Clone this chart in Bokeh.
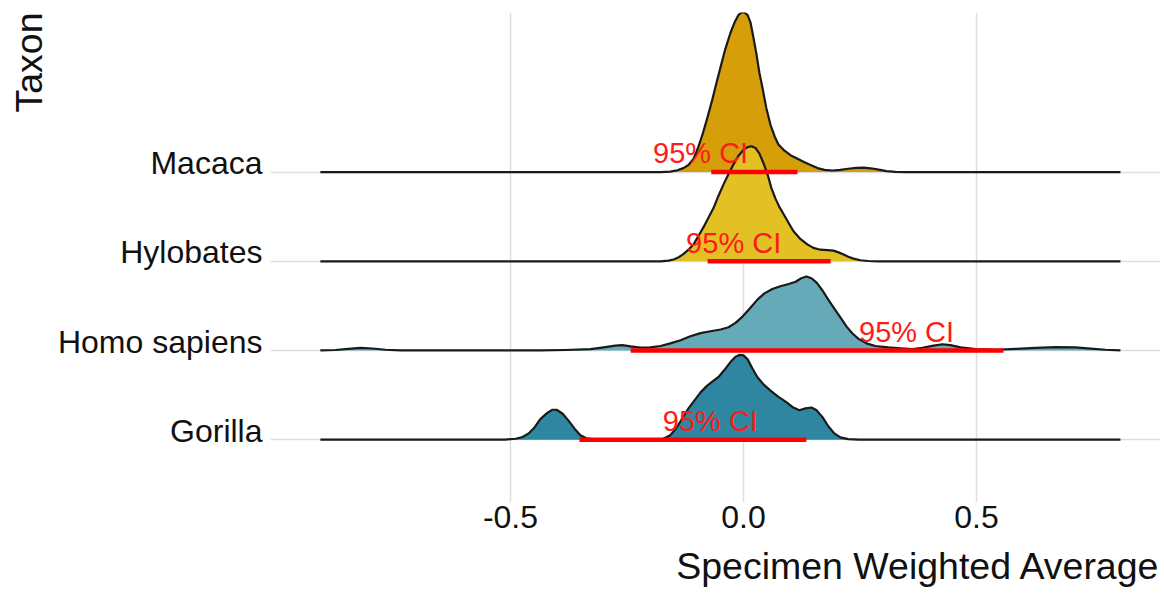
from bokeh.plotting import figure
from bokeh.models import Range1d, FixedTicker, CustomJSTickFormatter, Title, ColumnDataSource
from bokeh.core.properties import value
from bokeh.embed import file_html
from bokeh.resources import INLINE

# ---------------- data ----------------
taxa = ["Gorilla", "Homo sapiens", "Hylobates", "Macaca"]
taxon_pos = [1, 2, 3, 4]
fill_colors = ["#2F86A0", "#66A9B8", "#E3C125", "#D69E08"]

x_ticks = [-0.5, 0.0, 0.5]
x_tick_labels = ["-0.5", "0.0", "0.5"]
x_title = "Specimen Weighted Average"
y_title = "Taxon"

# density ridges (x value, ridge height in row units)
gorilla_x = [-0.908, -0.511, -0.489, -0.474, -0.461, -0.448, -0.436, -0.421, -0.410, -0.401,
             -0.388, -0.375, -0.362, -0.350, -0.337, -0.318, -0.189, -0.172, -0.157, -0.144,
             -0.131, -0.118, -0.105, -0.092, -0.079, -0.067, -0.054, -0.041, -0.028, -0.017,
             -0.009, 0.000, 0.009, 0.019, 0.030, 0.043, 0.058, 0.075, 0.092, 0.107,
             0.120, 0.133, 0.146, 0.157, 0.170, 0.182, 0.195, 0.208, 0.225, 0.247, 0.809]
gorilla_h = [0.0, 0.0, 0.01, 0.03, 0.07, 0.14, 0.23, 0.30, 0.335, 0.335,
             0.29, 0.21, 0.12, 0.05, 0.015, 0.0, 0.0, 0.01, 0.05, 0.13,
             0.24, 0.35, 0.44, 0.53, 0.60, 0.65, 0.70, 0.78, 0.87, 0.93,
             0.95, 0.945, 0.90, 0.80, 0.70, 0.62, 0.55, 0.48, 0.42, 0.36,
             0.33, 0.35, 0.36, 0.33, 0.25, 0.15, 0.07, 0.025, 0.005, 0.0, 0.0]

homo_x = [-0.908, -0.876, -0.848, -0.822, -0.796, -0.768, -0.736, -0.672, -0.436, -0.382,
          -0.328, -0.300, -0.275, -0.260, -0.242, -0.221, -0.200, -0.178, -0.157, -0.135,
          -0.114, -0.092, -0.071, -0.049, -0.032, -0.017, -0.002, 0.015, 0.030, 0.045,
          0.062, 0.079, 0.097, 0.112, 0.124, 0.135, 0.146, 0.157, 0.170, 0.182,
          0.195, 0.208, 0.221, 0.234, 0.247, 0.264, 0.283, 0.311, 0.337, 0.363,
          0.384, 0.408, 0.427, 0.444, 0.466, 0.498, 0.541, 0.584, 0.627, 0.670,
          0.712, 0.745, 0.777, 0.809]
homo_h = [0.0, 0.005, 0.018, 0.03, 0.022, 0.008, 0.002, 0.0, 0.0, 0.005,
          0.015, 0.035, 0.055, 0.06, 0.045, 0.032, 0.035, 0.05, 0.08, 0.115,
          0.16, 0.195, 0.215, 0.235, 0.26, 0.31, 0.38, 0.48, 0.57, 0.64,
          0.69, 0.72, 0.745, 0.77, 0.81, 0.83, 0.81, 0.76, 0.67, 0.57,
          0.47, 0.37, 0.27, 0.19, 0.13, 0.08, 0.05, 0.035, 0.025, 0.015,
          0.03, 0.055, 0.07, 0.06, 0.035, 0.015, 0.008, 0.018, 0.03, 0.038,
          0.035, 0.02, 0.008, 0.0]

hylobates_x = [-0.908, -0.178, -0.161, -0.150, -0.139, -0.129, -0.118, -0.107, -0.097, -0.086,
               -0.075, -0.064, -0.054, -0.043, -0.032, -0.021, -0.011, 0.000, 0.009, 0.017,
               0.026, 0.034, 0.043, 0.052, 0.060, 0.069, 0.077, 0.086, 0.097, 0.107,
               0.122, 0.137, 0.150, 0.165, 0.180, 0.193, 0.204, 0.215, 0.225, 0.236,
               0.251, 0.268, 0.290, 0.809]
hylobates_h = [0.0, 0.0, 0.008, 0.02, 0.045, 0.08, 0.13, 0.19, 0.28, 0.38,
               0.49, 0.60, 0.73, 0.86, 0.98, 1.09, 1.18, 1.25, 1.28, 1.29,
               1.27, 1.21, 1.10, 0.97, 0.82, 0.70, 0.61, 0.53, 0.43, 0.34,
               0.25, 0.19, 0.15, 0.13, 0.125, 0.12, 0.10, 0.075, 0.05, 0.03,
               0.012, 0.003, 0.0, 0.0]

macaca_x = [-0.908, -0.178, -0.157, -0.142, -0.129, -0.118, -0.107, -0.097, -0.088, -0.079,
            -0.067, -0.058, -0.049, -0.039, -0.028, -0.019, -0.011, -0.004, 0.002, 0.009,
            0.015, 0.021, 0.028, 0.034, 0.041, 0.049, 0.058, 0.067, 0.075, 0.088,
            0.101, 0.116, 0.131, 0.144, 0.159, 0.174, 0.191, 0.208, 0.225, 0.242,
            0.258, 0.273, 0.290, 0.307, 0.326, 0.348, 0.809]
macaca_h = [0.0, 0.0, 0.005, 0.02, 0.045, 0.08, 0.15, 0.28, 0.42, 0.58,
            0.81, 1.00, 1.18, 1.38, 1.56, 1.68, 1.76, 1.79, 1.79, 1.76,
            1.68, 1.52, 1.32, 1.12, 0.94, 0.72, 0.53, 0.40, 0.31, 0.24,
            0.19, 0.15, 0.11, 0.08, 0.045, 0.025, 0.018, 0.025, 0.038, 0.048,
            0.05, 0.043, 0.028, 0.012, 0.003, 0.0, 0.0]

ridge_x = [gorilla_x, homo_x, hylobates_x, macaca_x]
ridge_h = [gorilla_h, homo_h, hylobates_h, macaca_h]

# 95% CI per taxon
ci_low = [-0.352, -0.242, -0.077, -0.069]
ci_high = [0.135, 0.558, 0.187, 0.116]
ci_label_x = [-0.071, 0.350, -0.021, -0.092]
ci_label = ["95% CI", "95% CI", "95% CI", "95% CI"]

# ---------------- figure ----------------
FONT = "Liberation Sans"
p = figure(width=1164, height=598, output_backend="svg", toolbar_location=None,
           x_range=Range1d(-1.015, 0.895), y_range=Range1d(0.295, 5.79),
           min_border_left=270, min_border_right=4, min_border_top=12, min_border_bottom=95)
p.outline_line_color = None
p.background_fill_color = "white"
p.border_fill_color = "white"

# grids
p.xgrid.ticker = FixedTicker(ticks=x_ticks)
p.ygrid.ticker = FixedTicker(ticks=taxon_pos)
for g in (p.xgrid, p.ygrid):
    g.grid_line_color = "#dedede"
    g.grid_line_width = 1.5

# x axis
p.xaxis.ticker = FixedTicker(ticks=x_ticks)
p.xaxis.formatter = CustomJSTickFormatter(args=dict(tvals=x_ticks, tlabels=x_tick_labels),
    code="const i = tvals.findIndex(t => Math.abs(t - tick) < 1e-9); return i >= 0 ? tlabels[i] : '';")
# y axis: labels sit just above each baseline
p.yaxis.ticker = FixedTicker(ticks=[t + 0.1 for t in taxon_pos])
p.yaxis.formatter = CustomJSTickFormatter(args=dict(names=taxa),
    code="return names[Math.round(tick) - 1];")
for ax in (p.xaxis[0], p.yaxis[0]):
    ax.axis_line_color = None
    ax.major_tick_line_color = None
    ax.minor_tick_line_color = None
    ax.major_tick_out = 0
    ax.major_tick_in = 0
    ax.major_label_text_font = FONT
    ax.major_label_text_font_size = "32px"
    ax.major_label_text_color = "#111111"
p.xaxis.major_label_standoff = 3
p.yaxis.major_label_standoff = 8

# axis titles (ggridges style: right / top aligned)
p.add_layout(Title(text=x_title, align="right", text_font=FONT,
                   text_font_size="37.5px", text_font_style="normal", text_color="#111111",
                   standoff=24), "below")
p.add_layout(Title(text=y_title, align="right", text_font=FONT,
                   text_font_size="37.5px", text_font_style="normal", text_color="#111111",
                   standoff=9), "left")

# ridges: top row first so lower rows overlay
for i in reversed(range(len(taxa))):
    base = taxon_pos[i]
    xs = ridge_x[i]
    tops = [base + h for h in ridge_h[i]]
    src = ColumnDataSource(dict(x=xs, y1=[base] * len(xs), y2=tops))
    p.varea(x="x", y1="y1", y2="y2", source=src, fill_color=fill_colors[i], fill_alpha=1.0)
    p.line(x="x", y="y2", source=src, line_color="#1a1a1a", line_width=2.2, line_join="round")

# CI bars and labels (label lifted above its baseline)
ci_src = ColumnDataSource(dict(x0=ci_low, x1=ci_high, y=taxon_pos, lx=ci_label_x,
                               ly=[t + 0.21 for t in taxon_pos], txt=ci_label))
p.segment(x0="x0", y0="y", x1="x1", y1="y", source=ci_src, line_color="#FF0000",
          line_width=4.5, line_cap="butt")
p.text(x="lx", y="ly", text="txt", source=ci_src, text_align="center", text_baseline="middle",
       text_font=value(FONT), text_font_size="29px", text_color="#FF1A1A")

open("out.html", "w").write(file_html(p, INLINE))
